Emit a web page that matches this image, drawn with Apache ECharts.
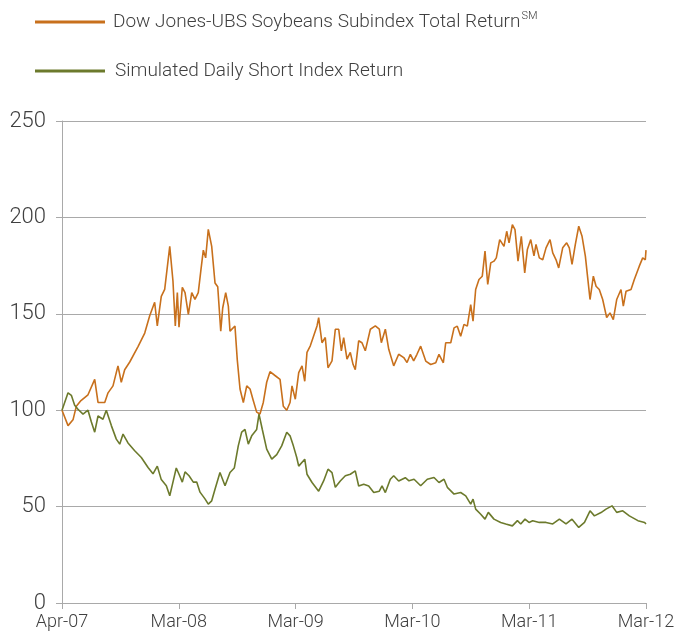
<!DOCTYPE html>
<html>
<head>
<meta charset="utf-8">
<script src="https://cdn.jsdelivr.net/npm/echarts@6/dist/echarts.min.js"></script>
<style>
html,body{margin:0;padding:0;background:#fff;}
#chart{width:678px;height:635px;}
</style>
</head>
<body>
<div id="chart"></div>
<script>
// x positions in months since Apr-07 (0..60)
const xTickLabels = ['Apr-07', 'Mar-08', 'Mar-09', 'Mar-10', 'Mar-11', 'Mar-12'];
const soyName = 'Dow Jones-UBS Soybeans Subindex Total Return';
const shortName = 'Simulated Daily Short Index Return';

const soyMonths = [0,0.62,1.13,1.47,1.95,2.67,3.36,3.70,4.39,4.73,5.24,5.75,6.09,6.44,6.96,7.81,8.50,9.01,9.52,9.79,10.20,10.55,11.07,11.40,11.64,11.85,12.02,12.36,12.64,12.98,13.33,13.66,14.00,14.28,14.52,14.76,15.03,15.38,15.72,16.00,16.31,16.51,16.82,17.09,17.26,17.77,18.01,18.29,18.63,18.98,19.32,19.65,20.00,20.34,20.68,21.03,21.37,21.88,22.40,22.74,23.09,23.43,23.63,23.97,24.32,24.66,24.94,25.17,25.51,25.86,26.20,26.37,26.71,27.05,27.33,27.74,28.08,28.43,28.70,28.94,29.28,29.62,29.90,30.13,30.48,30.82,31.16,31.68,32.19,32.60,32.81,33.22,33.57,34.08,34.59,35.11,35.45,35.79,36.13,36.47,36.85,37.37,37.88,38.40,38.73,39.18,39.42,39.94,40.28,40.61,40.96,41.30,41.64,41.99,42.23,42.50,42.84,43.18,43.46,43.74,44.05,44.38,44.62,44.97,45.41,45.69,45.93,46.27,46.54,46.85,47.19,47.54,47.81,48.16,48.49,48.70,49.04,49.39,49.73,50.14,50.42,50.76,51.03,51.44,51.85,52.12,52.40,52.74,53.09,53.43,53.77,54.01,54.25,54.59,54.87,55.20,55.55,55.96,56.30,56.64,56.99,57.43,57.67,57.95,58.46,58.80,59.31,59.66,59.93,60];
const soyValues = [100,92,95,102,105,108,116,104,104,109,112.6,123,114.5,121,125,133,140,149,156,143.7,159,162.7,185,167,143.7,161,143,163.7,161,149.7,161,157.5,161,173,183,179,193.8,185,166,164,141,153,161,154,141,143.7,126,111,104,112.6,111,105,99,98,104,114.5,120,118,116,102,100,104,112.6,105.7,119.5,123,115,130,133.4,138.6,143.7,148,135,137.7,122,125.6,142,142,130.8,137.7,126.5,130,123.8,121,136,135,130.8,142,143.7,142,135,142,131.6,123,129,127.3,124.7,129,125.6,129,133.2,125.5,123.7,124.6,129,124.6,135,135,142.7,143.6,138.4,144.5,143.6,154.8,146.2,162.6,167.8,169.5,182.5,165.2,176.4,177.3,179,188.5,185,192.8,186.8,196.3,193.7,177.3,190.2,171.2,183.3,188.5,180,186,179,178,184.2,188.5,181.6,178,173.8,184.2,186.8,184.2,175.6,186,195.4,190.2,179.9,168.6,157.4,169.5,164.3,162.6,157.4,148,150.5,147,157.4,162.6,154,161.7,162.6,167.8,174.7,179,178,183];

const shortMonths = [0,0.62,0.96,1.30,1.64,2.16,2.67,3.01,3.36,3.70,4.21,4.55,5.07,5.58,5.93,6.27,6.78,7.47,8.15,8.84,9.35,9.79,10.20,10.72,11.07,11.40,11.74,12.09,12.36,12.64,13.05,13.49,13.84,14.18,14.69,15.03,15.38,15.72,16.23,16.75,17.26,17.70,18.11,18.46,18.80,19.14,19.49,20.00,20.24,20.58,21.03,21.55,22.06,22.57,23.09,23.43,23.77,24.11,24.32,24.94,25.17,25.69,26.37,26.88,27.33,27.74,28.08,28.59,29.11,29.62,30.13,30.48,31.00,31.51,32.03,32.60,32.88,33.22,33.73,34.08,34.59,35.27,35.65,36.17,36.85,37.53,38.22,38.73,39.25,39.59,40.28,40.96,41.48,41.99,42.23,42.50,43.02,43.46,43.80,44.38,45.07,45.59,46.27,46.79,47.13,47.57,47.98,48.36,49.04,49.73,50.42,51.10,51.78,52.40,53.09,53.68,54.25,54.70,55.38,55.89,56.51,56.99,57.61,58.29,59.17,59.86,60];
const shortValues = [100,109,107.7,102.6,100.5,98,100,94,88.6,97,95.3,100,92,85,82.4,87.6,83,79,75.5,70.3,67,71,64,60.8,55.6,62.7,70,66,62.7,68,66,62.7,62.7,57.5,54,51.3,53,59,67.7,60.8,67.7,70,81.5,88.6,90,82.4,86.7,90,98,90,79.8,74.6,77,81.5,88.6,86.7,81.5,75.6,71,74.6,66.8,62.5,58,63.3,69.4,67.6,60,63.3,66,66.8,68.5,60.7,61.6,60.7,57.3,58,60.7,57.3,64.2,66,63.3,65,63.4,64.2,60.8,64.2,65.1,62.5,64.2,60,56.5,57.3,55.6,51.3,53.9,48.7,46,43.5,47,43.5,41.8,41,40,42.7,41,43.5,41.8,42.7,41.8,41.8,41,43.5,41,43.5,39.2,41.8,47.8,45.2,46.9,48.7,50.4,47,47.8,45.2,42.7,41.8,41];

const yTickMin = 0, yTickMax = 250, yTickStep = 50;

const soyData = soyMonths.map((m, i) => [m, soyValues[i]]);
const shortData = shortMonths.map((m, i) => [m, shortValues[i]]);

const FONT = 'Roboto';
const TEXT = '#404040';
const GRID = '#A9A9A9';
const ORANGE = '#C8701C';
const GREEN = '#6C7A2C';

const chart = echarts.init(document.getElementById('chart'));
chart.setOption({
  animation: false,
  backgroundColor: '#fff',
  legend: [
    {
      data: [soyName],
      left: 30, top: 6,
      icon: 'rect', itemWidth: 70, itemHeight: 3,
      formatter: n => '{m|' + n + '}{s|SM}',
      textStyle: {
        padding: [0, 0, 0, 3],
        rich: {
          m: { fontFamily: FONT, fontWeight: 300, fontSize: 19, color: TEXT, lineHeight: 22 },
          s: { fontFamily: FONT, fontWeight: 300, fontSize: 11, color: TEXT, verticalAlign: 'top', lineHeight: 22, padding: [0, 0, 8, 1] }
        }
      }
    },
    {
      data: [shortName],
      left: 30, top: 55,
      icon: 'rect', itemWidth: 70, itemHeight: 3,
      textStyle: { fontFamily: FONT, fontWeight: 300, fontSize: 19, color: TEXT, lineHeight: 22, padding: [0, 0, 0, 5] }
    }
  ],
  grid: { left: 62, right: 32, top: 121, bottom: 32, containLabel: false },
  xAxis: {
    type: 'value', min: 0, max: 60, interval: 12,
    axisLine: { show: true, lineStyle: { color: GRID, width: 1 } },
    axisTick: { show: true, length: 6, lineStyle: { color: GRID } },
    splitLine: { show: false },
    axisLabel: {
      margin: 10, fontFamily: FONT, fontWeight: 300, fontSize: 18, color: TEXT,
      formatter: v => xTickLabels[Math.round(v / 12)]
    }
  },
  yAxis: {
    type: 'value', min: yTickMin, max: yTickMax, interval: yTickStep,
    axisLine: { show: true, lineStyle: { color: GRID, width: 1 } },
    axisTick: { show: true, length: 6, lineStyle: { color: GRID } },
    splitLine: { show: true, lineStyle: { color: GRID, width: 1 } },
    axisLabel: { margin: 16, fontFamily: FONT, fontWeight: 300, fontSize: 22, color: TEXT }
  },
  series: [
    {
      name: soyName, type: 'line', data: soyData, showSymbol: false,
      lineStyle: { color: ORANGE, width: 1.6 }, itemStyle: { color: ORANGE }
    },
    {
      name: shortName, type: 'line', data: shortData, showSymbol: false,
      lineStyle: { color: GREEN, width: 1.6 }, itemStyle: { color: GREEN }
    }
  ]
});
</script>
</body>
</html>
